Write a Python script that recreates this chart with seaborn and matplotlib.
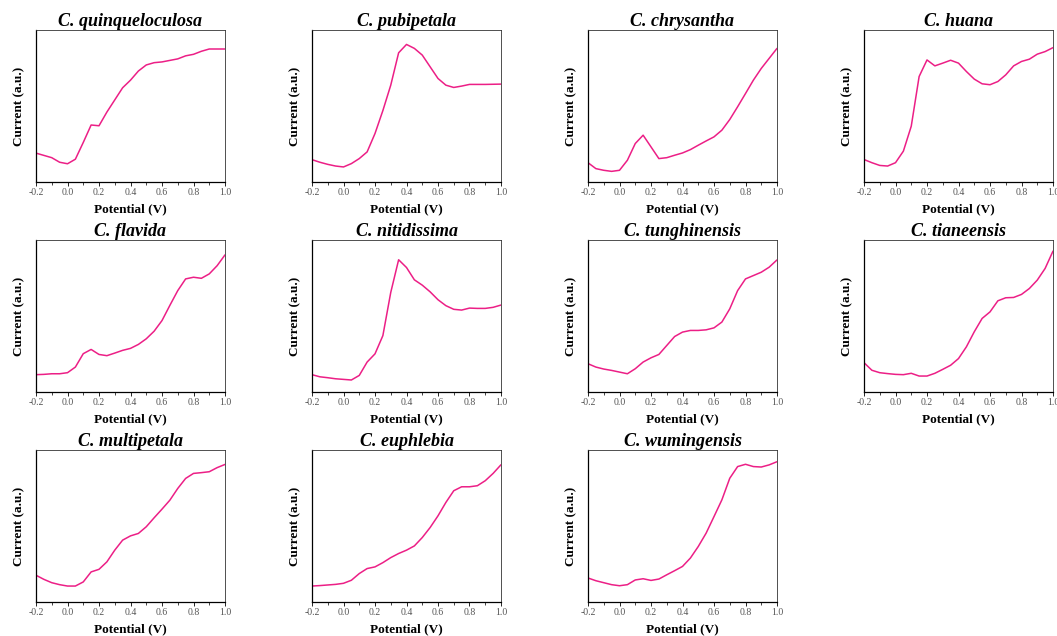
from matplotlib import pyplot as plt
from matplotlib.ticker import MultipleLocator
import numpy as np
import pandas as pd
import seaborn as sns

# Potential grid (V), shared by every panel
potential = [-0.2, -0.15, -0.1, -0.05, 0.0, 0.05, 0.1, 0.15, 0.2, 0.25, 0.3, 0.35,
             0.4, 0.45, 0.5, 0.55, 0.6, 0.65, 0.7, 0.75, 0.8, 0.85, 0.9, 0.95, 1.0]

species = ['C. quinqueloculosa', 'C. pubipetala', 'C. chrysantha', 'C. huana',
           'C. flavida', 'C. nitidissima', 'C. tunghinensis', 'C. tianeensis',
           'C. multipetala', 'C. euphlebia', 'C. wumingensis']

# Current in arbitrary units
quinqueloculosa = [0.19, 0.175, 0.16, 0.13, 0.12, 0.15, 0.26, 0.375, 0.37, 0.46, 0.54, 0.62,
                   0.67, 0.73, 0.77, 0.785, 0.79, 0.80, 0.81, 0.83, 0.84, 0.86, 0.875, 0.875, 0.875]
pubipetala = [0.147, 0.13, 0.116, 0.105, 0.099, 0.121, 0.154, 0.198, 0.319, 0.47, 0.637, 0.85,
              0.905, 0.879, 0.835, 0.758, 0.681, 0.637, 0.622, 0.631, 0.642, 0.642, 0.642, 0.643, 0.644]
chrysantha = [0.127, 0.088, 0.077, 0.070, 0.077, 0.143, 0.253, 0.308, 0.231, 0.154, 0.160, 0.176,
              0.191, 0.213, 0.242, 0.270, 0.297, 0.341, 0.411, 0.495, 0.582, 0.670, 0.747, 0.813, 0.879]
huana = [0.148, 0.127, 0.109, 0.105, 0.127, 0.203, 0.367, 0.694, 0.803, 0.764, 0.782, 0.801,
         0.782, 0.727, 0.677, 0.646, 0.640, 0.661, 0.705, 0.764, 0.793, 0.808, 0.841, 0.858, 0.884]
flavida = [0.114, 0.116, 0.120, 0.120, 0.127, 0.164, 0.252, 0.28, 0.247, 0.239, 0.256, 0.274,
           0.287, 0.313, 0.35, 0.40, 0.47, 0.57, 0.667, 0.744, 0.755, 0.748, 0.777, 0.831, 0.902]
nitidissima = [0.114, 0.100, 0.094, 0.087, 0.083, 0.079, 0.109, 0.197, 0.251, 0.371, 0.655, 0.87,
               0.819, 0.738, 0.703, 0.659, 0.607, 0.568, 0.544, 0.539, 0.552, 0.550, 0.550, 0.557, 0.572]
tunghinensis = [0.186, 0.164, 0.151, 0.142, 0.131, 0.120, 0.153, 0.197, 0.225, 0.247, 0.306, 0.365,
                0.394, 0.405, 0.405, 0.409, 0.422, 0.460, 0.547, 0.667, 0.744, 0.766, 0.788, 0.821, 0.869]
tianeensis = [0.193, 0.143, 0.127, 0.121, 0.116, 0.114, 0.123, 0.105, 0.105, 0.123, 0.149, 0.176,
              0.220, 0.297, 0.396, 0.484, 0.527, 0.600, 0.620, 0.622, 0.642, 0.681, 0.736, 0.813, 0.927]
multipetala = [0.176, 0.149, 0.127, 0.114, 0.105, 0.105, 0.132, 0.198, 0.215, 0.264, 0.341, 0.407,
               0.435, 0.451, 0.495, 0.554, 0.611, 0.670, 0.747, 0.813, 0.846, 0.851, 0.857, 0.884, 0.905]
euphlebia = [0.105, 0.108, 0.112, 0.116, 0.123, 0.143, 0.187, 0.220, 0.231, 0.259, 0.292, 0.319,
             0.341, 0.369, 0.424, 0.490, 0.567, 0.655, 0.732, 0.758, 0.758, 0.765, 0.798, 0.846, 0.903]
wumingensis = [0.158, 0.140, 0.127, 0.114, 0.107, 0.114, 0.145, 0.153, 0.142, 0.151, 0.179, 0.206,
               0.234, 0.289, 0.365, 0.453, 0.562, 0.672, 0.814, 0.891, 0.906, 0.891, 0.888, 0.902, 0.923]

currents = [quinqueloculosa, pubipetala, chrysantha, huana, flavida, nitidissima,
            tunghinensis, tianeensis, multipetala, euphlebia, wumingensis]

line_color = '#ec1f86'

sns.set_style('white')
plt.rcParams['font.family'] = ['Liberation Serif', 'DejaVu Serif']
plt.rcParams['text.color'] = 'black'
plt.rcParams['axes.labelcolor'] = 'black'


def format_panel(ax, title):
    ax.set_title(title, fontsize=13, fontweight='bold', fontstyle='italic', pad=3)
    ax.set_xlabel('Potential (V)', fontsize=9.5, fontweight='bold', labelpad=4)
    ax.set_ylabel('Current (a.u.)', fontsize=9.5, fontweight='bold', labelpad=8)
    ax.set_xlim([-0.2, 1.0])
    ax.set_ylim([0, 1])
    ax.xaxis.set_minor_locator(MultipleLocator(0.1))
    ax.set_xticks(np.arange(-0.2, 1.01, 0.2))
    ax.set_xticklabels(['%.1f' % v for v in np.arange(-0.2, 1.01, 0.2)], color='#555555')
    ax.tick_params(axis='x', which='major', direction='out', length=3, width=0.7,
                   labelsize=7, pad=1.5, bottom=True)
    ax.tick_params(axis='x', which='minor', direction='out', length=1.8, width=0.6, bottom=True)
    ax.set_yticks([])
    for side in ['left', 'bottom']:
        ax.spines[side].set_color('black')
        ax.spines[side].set_linewidth(0.9)
    for side in ['top', 'right']:
        ax.spines[side].set_color('#333333')
        ax.spines[side].set_linewidth(0.6)


fig = plt.figure(figsize=(10.57, 6.36), dpi=100)

# Axes boxes in pixels
col_left = [36, 312, 588, 864]
row_bottom = [182, 392, 602]
ax_w, ax_h = 189, 152

for i, (name, cur) in enumerate(zip(species, currents)):
    r, c = divmod(i, 4)
    ax = fig.add_axes([col_left[c] / 1057, 1 - row_bottom[r] / 636, ax_w / 1057, ax_h / 636])
    df = pd.DataFrame({'Potential': potential, 'Current': cur})
    sns.lineplot(data=df, x='Potential', y='Current', color=line_color, linewidth=1.1, ax=ax)
    format_panel(ax, name)

fig.savefig('out.png', dpi=100)
